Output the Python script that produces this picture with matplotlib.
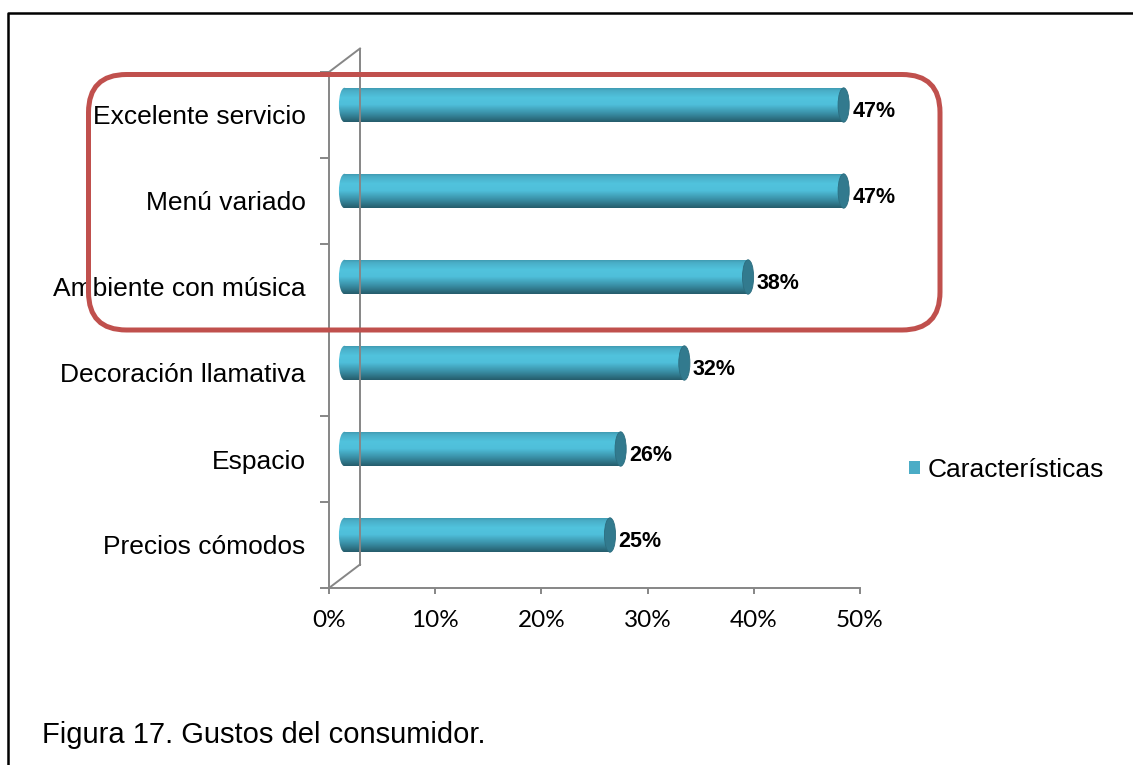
import numpy as np
import matplotlib.pyplot as plt
from matplotlib.colors import LinearSegmentedColormap
from matplotlib.patches import Rectangle, Ellipse, FancyBboxPatch, Patch
from matplotlib.lines import Line2D
from matplotlib.transforms import ScaledTranslation

plt.rcParams['font.family'] = ['Liberation Sans', 'DejaVu Sans']

# Data
categorias = ['Excelente servicio', 'Menú variado', 'Ambiente con música',
              'Decoración llamativa', 'Espacio', 'Precios cómodos']
valores = [0.47, 0.47, 0.38, 0.32, 0.26, 0.25]
ticks_x = [0, 0.1, 0.2, 0.3, 0.4, 0.5]
serie = 'Características'
titulo = 'Figura 17. Gustos del consumidor.'

W, H = 1133, 765
fig = plt.figure(figsize=(W / 100, H / 100), dpi=100)
ax = fig.add_axes([329 / W, 1 - 588 / H, (860 - 329) / W, (588 - 72) / H])

gris = '#868686'
n = len(categorias)
ypos = np.arange(n)[::-1]

# cylinder gradient (bottom -> top)
cyl = LinearSegmentedColormap.from_list('cyl', [
    (0.0, '#255c6b'), (0.25, '#3a90a7'), (0.5, '#4fbfda'),
    (0.7, '#51c3dd'), (0.9, '#49aec7'), (1.0, '#3d93aa')])
grad = np.linspace(0, 1, 256).reshape(-1, 1)

# bars sit at mid depth of the 3D wall
depth = ax.transData + ScaledTranslation(0.155, 0.10, fig.dpi_scale_trans)
alto = 0.4
ew = 0.0105

for y, v in zip(ypos, valores):
    body = Rectangle((0, y - alto / 2), v, alto, transform=depth,
                     facecolor='none', edgecolor='none')
    ax.add_patch(body)
    im = ax.imshow(grad, cmap=cyl, origin='lower', aspect='auto',
                   extent=(0, v, y - alto / 2, y + alto / 2),
                   transform=depth, interpolation='bilinear', zorder=2)
    im.set_clip_path(body)
    izq = Ellipse((0, y), ew, alto, transform=depth,
                  facecolor='none', edgecolor='none')
    ax.add_patch(izq)
    im2 = ax.imshow(grad, cmap=cyl, origin='lower', aspect='auto',
                    extent=(-ew, ew, y - alto / 2, y + alto / 2),
                    transform=depth, interpolation='bilinear', zorder=2)
    im2.set_clip_path(izq)
    ax.add_patch(Ellipse((v, y), ew, alto, transform=depth,
                         facecolor='#327a8e', edgecolor='#2c6d7f',
                         lw=0.6, zorder=3))
    ax.text(v, y, f'{v:.0%}', transform=ax.transData +
            ScaledTranslation(0.24, 0.035, fig.dpi_scale_trans),
            ha='left', va='center', fontsize=15.5, fontweight='bold',
            zorder=4)

ax.set_xlim(0, 0.5)
ax.set_ylim(-0.5, n - 0.5)

ax.set_xticks(ticks_x)
ax.set_xticklabels([f'{t:.0%}' for t in ticks_x], fontsize=17.5,
                   family=['Lato', 'DejaVu Sans'])
ax.set_yticks(ypos)
ax.set_yticklabels(categorias, fontsize=19)
ax.set_yticks(np.arange(-0.5, n), minor=True)
ax.tick_params(axis='y', which='major', length=0, pad=17)
ax.tick_params(axis='y', which='minor', length=6.5, width=1.4, color=gris)
ax.tick_params(axis='x', length=4.5, width=1.4, color=gris, pad=11)

for s in ['top', 'right']:
    ax.spines[s].set_visible(False)
for s in ['left', 'bottom']:
    ax.spines[s].set_color(gris)
    ax.spines[s].set_linewidth(1.4)

# back wall of the 3D frame
pos = ax.get_position()
x0, y0, y1 = pos.x0 * W / 100, pos.y0 * H / 100, pos.y1 * H / 100
dx, dy = 0.31, 0.235
for xs, ys in [([x0 + dx, x0 + dx], [y0 + dy, y1 + dy]),
               ([x0, x0 + dx], [y1, y1 + dy]),
               ([x0, x0 + dx], [y0, y0 + dy])]:
    fig.add_artist(Line2D(xs, ys, transform=fig.dpi_scale_trans,
                          color=gris, lw=1.4))

# legend
fig.legend(handles=[Patch(facecolor='#4bacc6', edgecolor='none', label=serie)],
           loc='center left', bbox_to_anchor=(909 / W, 1 - 470 / H),
           frameon=False, fontsize=19, handlelength=0.42, handleheight=0.42,
           handletextpad=0.3, borderpad=0, borderaxespad=0)

# highlight box
fig.add_artist(FancyBboxPatch((0.885, 4.35), 9.40 - 0.885, 6.905 - 4.35,
                              boxstyle='round,pad=0,rounding_size=0.38',
                              transform=fig.dpi_scale_trans, facecolor='none',
                              edgecolor='#c0504d', lw=3.6, zorder=10))

# page frame
fig.add_artist(Line2D([0.08, 0.08, 11.4], [-0.1, 7.52, 7.52],
                      transform=fig.dpi_scale_trans, color='black', lw=1.8))

fig.text(42 / W, 1 - 735 / H, titulo, fontsize=21, va='center', ha='left')

fig.savefig('out.png', dpi=100)
